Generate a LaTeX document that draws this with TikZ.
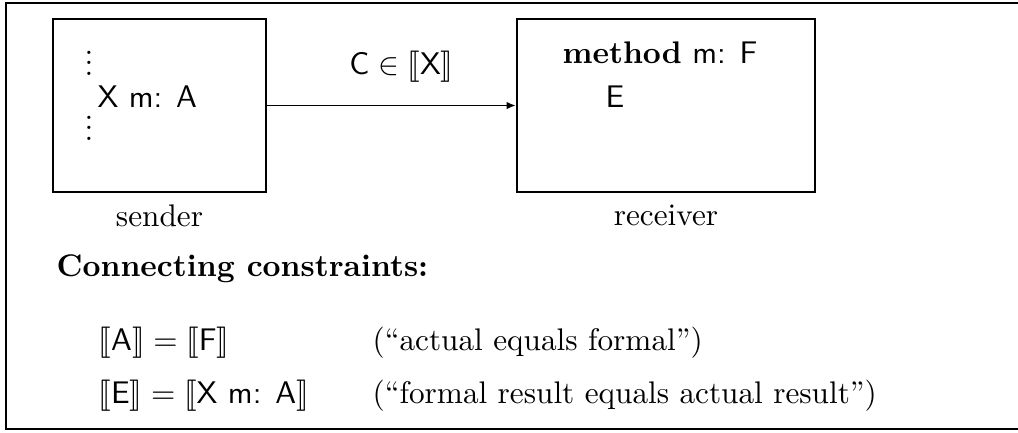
\documentclass[tikz,border=0pt]{standalone}
\usepackage{amsmath,amssymb}
\usepackage{stmaryrd}
\usepackage{tikz}
\usetikzlibrary{arrows.meta,positioning}
\tikzset{
  obj/.style  ={rectangle,draw,line width=0.6pt,minimum height=55.4pt},
  objs/.style ={obj,minimum width=68.2pt},
  objr/.style ={obj,minimum width=95.4pt},
  msg/.style  ={-{Latex[length=3pt,width=2.4pt]},line width=0.6pt},
  lbl/.style  ={inner sep=0pt},
  frm/.style  ={line width=0.8pt},
}
\newcommand{\sem}[1]{\llbracket#1\rrbracket}
\newcommand{\sfx}[1]{\textsf{#1}}
\newcommand{\vdts}{\vbox{\baselineskip3.3pt\lineskiplimit0pt
  \hbox{.}\hbox{.}\hbox{.}}}

\begin{document}
\begin{tikzpicture}[x=0.32pt,y=-0.32pt]
  \useasboundingbox (0,0) rectangle (1018,432);
  % frame
  \draw[frm] (1018,3) -- (6,3) -- (6,429) -- (1018,429);
  % objects
  \node[objs] (snd) at (159.5,105.5) {};
  \node[objr] (rcv) at (666,105.5) {};
  \node[lbl,below=3.5pt of snd] (sndname) {sender};
  \node[lbl,below=3.5pt of rcv] (rcvname) {receiver};
  % sender body
  \node[lbl,anchor=base] (dotsa) at (89,75) {\vdts};
  \node[lbl,anchor=base west] (call) at (97,107) {\sfx{X m: A}};
  \node[lbl,anchor=base] (dotsb) at (89,140) {\vdts};
  % receiver body
  \node[lbl,anchor=base west] (meth) at (562,63) {\textbf{method} \sfx{m: F}};
  \node[lbl,anchor=base west] (body) at (605,107) {\sfx{E}};
  % message
  \draw[msg] (snd) -- node[lbl,pos=0.54,above=7pt] (cls)
             {$\sfx{C}\in\sem{\sfx{X}}$} (rcv);
  % constraints
  \node[lbl,anchor=base west] (ctitle) at (56,276) {\textbf{Connecting constraints:}};
  \node[lbl,anchor=base west] (eqa) at (98,350) {$\sem{\sfx{A}}=\sem{\sfx{F}}$};
  \node[lbl,anchor=base west] (eqb) at (98,403) {$\sem{\sfx{E}}=\sem{\sfx{X m: A}}$};
  \node[lbl,anchor=base west] (cma) at (372,350) {(``actual equals formal'')};
  \node[lbl,anchor=base west] (cmb) at (372,403) {(``formal result equals actual result'')};
\end{tikzpicture}
\end{document}
